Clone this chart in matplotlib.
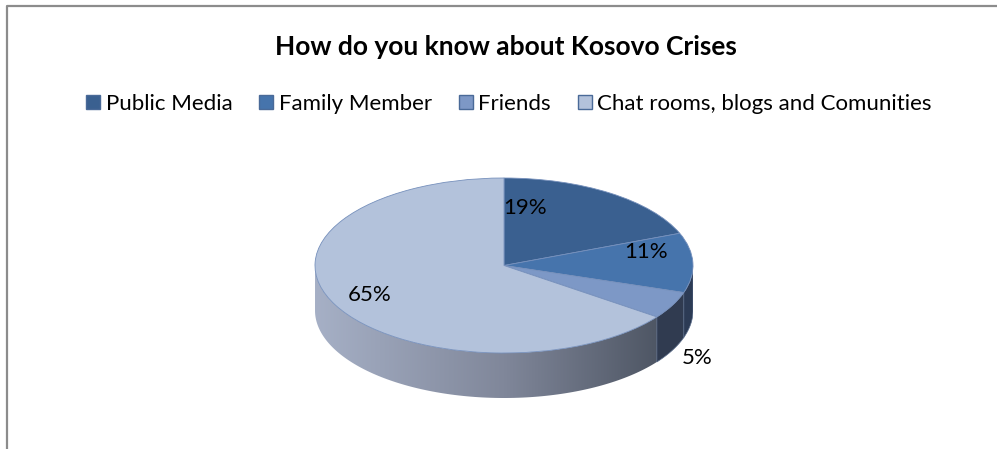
import numpy as np
import matplotlib.pyplot as plt
from matplotlib.patches import Patch, Polygon
from matplotlib.colors import LinearSegmentedColormap

categories = ['Public Media', 'Family Member', 'Friends', 'Chat rooms, blogs and Comunities']
shares = [19, 11, 5, 65]
pct_labels = ['19%', '11%', '5%', '65%']
top_colors = ['#3A6090', '#4674AC', '#7D98C6', '#B3C2DB']
side_colors = ['#2B3D5C', '#2C3B55', '#303B50', None]

plt.rcParams['font.family'] = ['Lato', 'DejaVu Sans']

fig = plt.figure(figsize=(9.97, 4.49), dpi=100)

# frame (only top and left edges show in the crop)
bg = fig.add_axes([0, 0, 1, 1])
bg.set_xlim(0, 997)
bg.set_ylim(449, 0)
bg.axis('off')
bg.plot([7, 7, 997], [449, 6, 6], color='#8c8c8c', lw=1.6)

fig.text(506 / 997, 1 - 47 / 449, 'How do you know about Kosovo Crises',
         ha='center', va='center', fontsize=19, fontweight='bold')

# pie in an axes that squashes the circle into an ellipse
depth = 45 / 87.5
ax = fig.add_axes([315 / 997, 1 - 398 / 449, 378 / 997, 220 / 449])

fracs = np.array(shares) / sum(shares)
ends = 90 - 360 * np.cumsum(fracs)
starts = ends + 360 * fracs


def side_poly(a0, a1):
    t = np.radians(np.linspace(a0, a1, 120))
    xs = np.concatenate([np.cos(t), np.cos(t[::-1])])
    ys = np.concatenate([np.sin(t), np.sin(t[::-1]) - depth])
    return np.column_stack([xs, ys])


side_cmap = LinearSegmentedColormap.from_list('side', ['#A6B0C6', '#80879A', '#434B58'])
for i in range(len(shares)):
    a0, a1 = ends[i], starts[i]
    # visible front side lies between -180 and 0 degrees
    lo, hi = max(a0, -180), min(a1, 0)
    if hi <= lo:
        continue
    poly = Polygon(side_poly(lo, hi), closed=True, lw=0)
    if side_colors[i] is None:
        poly.set_facecolor('none')
        ax.add_patch(poly)
        grad = np.linspace(0, 1, 256).reshape(1, -1)
        im = ax.imshow(grad, cmap=side_cmap, aspect='auto',
                       extent=(-1, 1, -1 - depth, 0), zorder=1)
        im.set_clip_path(poly)
    else:
        poly.set_facecolor(side_colors[i])
        poly.set_edgecolor('#5C6E8C')
        poly.set_linewidth(0.5)
        poly.set_zorder(2)
        ax.add_patch(poly)

wedges, _ = ax.pie(shares, colors=top_colors, startangle=90, counterclock=False,
                   wedgeprops=dict(edgecolor='#7690BC', linewidth=0.6))
for w in wedges:
    w.set_zorder(3)
    w.set_clip_on(False)

ax.set_aspect('auto')
ax.set_xlim(-1, 1)
ax.set_ylim(-1 - depth, 1)
ax.axis('off')

label_pos = [(0.11, 0.66), (0.75, 0.15), (1.02, -1.06), (-0.71, -0.34)]
for txt, (lx, ly) in zip(pct_labels, label_pos):
    ax.text(lx, ly, txt, ha='center', va='center', fontsize=16, zorder=5)

handles = [Patch(facecolor=c, edgecolor='#4A6A98', lw=1) for c in top_colors]
fig.legend(handles, categories, loc='center', bbox_to_anchor=(509 / 997, 1 - 104 / 449),
           ncol=4, frameon=False, fontsize=16, handlelength=0.63, handleheight=0.63,
           handletextpad=0.25, columnspacing=1.2)

fig.savefig('out.png', dpi=100)
